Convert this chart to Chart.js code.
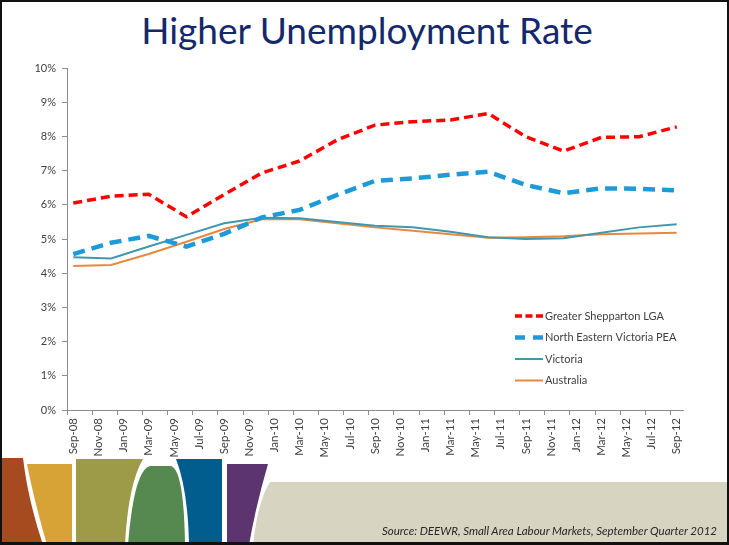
<!DOCTYPE html>
<html>
<head>
<meta charset="utf-8">
<script src="https://cdn.jsdelivr.net/npm/chart.js@4.4.1/dist/chart.umd.min.js"></script>
<style>
  html, body { margin: 0; padding: 0; background: #fff; }
  #slide { position: relative; width: 729px; height: 545px; overflow: hidden; background: #fff; }
  #frame { position: absolute; left: 0; top: 0; width: 729px; height: 545px; box-sizing: border-box;
           border: 2px solid #111; border-bottom-width: 3px; pointer-events: none; }
  #title { position: absolute; left: 0; width: 734px; top: 7px; text-align: center;
           font-family: Lato, sans-serif; font-size: 37px; color: #14296c; }
  #deco { position: absolute; left: 0; top: 0; }
  #source { position: absolute; right: 12px; top: 524px; font-family: Lato, sans-serif;
            font-style: italic; font-size: 11.5px; color: #262626; }
  canvas { position: absolute; left: 0; top: 0; }
</style>
</head>
<body>
<div id="slide">
  <svg id="deco" width="729" height="545">
    <path d="M2,458 L23,458 Q28,500 43,545 L2,545 Z" fill="#a54b1f"/>
    <path d="M27,464 L72,464 L72,545 L47,545 Q34,500 27,464 Z" fill="#d7a236"/>
    <path d="M76,459 L143,459 Q128,485 125,545 L76,545 Z" fill="#9d9a48"/>
    <path d="M150,466 L171,466 Q184,470 185,545 L128,545 Q134,470 150,466 Z" fill="#56894f"/>
    <path d="M176,459 L222,459 L222,545 L189,545 Q188,490 176,459 Z" fill="#025d8f"/>
    <path d="M227,464 L268,464 Q256,505 249,545 L227,545 Z" fill="#5b3470"/>
    <path d="M270,482 L729,482 L729,545 L253,545 Q258,500 270,482 Z" fill="#d8d4c2"/>
  </svg>
  <div id="title">Higher Unemployment Rate</div>
  <canvas id="lineChart" width="729" height="545"></canvas>
  <div id="source">Source: DEEWR, Small Area Labour Markets, September Quarter 2012</div>
  <div id="frame"></div>
</div>
<script>
// quarterly observations
const quarters = ['Sep-08', 'Dec-08', 'Mar-09', 'Jun-09', 'Sep-09', 'Dec-09', 'Mar-10', 'Jun-10', 'Sep-10',
                  'Dec-10', 'Mar-11', 'Jun-11', 'Sep-11', 'Dec-11', 'Mar-12', 'Jun-12', 'Sep-12'];

// axis labels, every two months
const tickLabels = ['Sep-08', 'Nov-08', 'Jan-09', 'Mar-09', 'May-09', 'Jul-09', 'Sep-09', 'Nov-09', 'Jan-10',
                    'Mar-10', 'May-10', 'Jul-10', 'Sep-10', 'Nov-10', 'Jan-11', 'Mar-11', 'May-11', 'Jul-11',
                    'Sep-11', 'Nov-11', 'Jan-12', 'Mar-12', 'May-12', 'Jul-12', 'Sep-12'];

const shepparton = [6.05, 6.25, 6.31, 5.65, 6.30, 6.93, 7.28, 7.90, 8.33, 8.43, 8.48, 8.67, 7.99, 7.57, 7.97, 7.99, 8.28];
const neVictoria = [4.56, 4.89, 5.09, 4.78, 5.15, 5.63, 5.85, 6.29, 6.70, 6.77, 6.88, 6.97, 6.58, 6.34, 6.48, 6.47, 6.42];
const victoria   = [4.47, 4.43, 4.78, 5.12, 5.46, 5.62, 5.61, 5.50, 5.39, 5.34, 5.21, 5.05, 5.00, 5.02, 5.18, 5.34, 5.43];
const australia  = [4.21, 4.24, 4.56, 4.92, 5.29, 5.58, 5.58, 5.46, 5.34, 5.24, 5.14, 5.04, 5.05, 5.08, 5.14, 5.16, 5.18];

const seriesNames = ['Greater Shepparton LGA', 'North Eastern Victoria PEA', 'Victoria', 'Australia'];
const yTicks = [0, 1, 2, 3, 4, 5, 6, 7, 8, 9, 10];

const MONTHS = ['Jan', 'Feb', 'Mar', 'Apr', 'May', 'Jun', 'Jul', 'Aug', 'Sep', 'Oct', 'Nov', 'Dec'];
function monthIndex(label) {
    const [m, y] = label.split('-');
    return (2000 + parseInt(y, 10)) * 12 + MONTHS.indexOf(m);
}
const base = monthIndex(quarters[0]);
const toPoints = (vals) => vals.map((v, i) => ({ x: monthIndex(quarters[i]) - base, y: v }));

const FONT = 'Lato, sans-serif';

const legendBox = {
    id: 'legendBox',
    afterDraw(chart) {
        const ctx = chart.ctx;
        chart.data.datasets.forEach((ds, i) => {
            const y = 316 + i * 21.5;
            ctx.save();
            ctx.strokeStyle = ds.borderColor;
            ctx.lineWidth = ds.borderWidth;
            ctx.setLineDash(ds.legendDash || []);
            ctx.beginPath();
            ctx.moveTo(515, y);
            ctx.lineTo(543, y);
            ctx.stroke();
            ctx.setLineDash([]);
            ctx.fillStyle = '#404040';
            ctx.font = '11px ' + FONT;
            ctx.textBaseline = 'middle';
            ctx.fillText(ds.label, 545, y);
            ctx.restore();
        });
    }
};

const ctx = document.getElementById('lineChart').getContext('2d');
const lineChart = new Chart(ctx, {
    type: 'line',
    data: {
        datasets: [
            {
                label: seriesNames[0],
                data: toPoints(shepparton),
                borderColor: '#ff0000',
                borderWidth: 3.5,
                borderDash: [9, 5],
                legendDash: [7, 3.5]
            },
            {
                label: seriesNames[1],
                data: toPoints(neVictoria),
                borderColor: '#1f9ad9',
                borderWidth: 4.5,
                borderDash: [12, 7],
                legendDash: [10, 8]
            },
            {
                label: seriesNames[2],
                data: toPoints(victoria),
                borderColor: '#4198ae',
                borderWidth: 2
            },
            {
                label: seriesNames[3],
                data: toPoints(australia),
                borderColor: '#e8883f',
                borderWidth: 2
            }
        ]
    },
    options: {
        responsive: false,
        animation: false,
        elements: {
            point: { radius: 0 },
            line: { tension: 0, fill: false }
        },
        layout: {
            padding: { left: 0, right: 46, top: 68, bottom: 75 }
        },
        plugins: {
            legend: { display: false },
            tooltip: { enabled: false }
        },
        scales: {
            x: {
                type: 'linear',
                min: -0.5,
                max: 48.5,
                afterBuildTicks: (scale) => {
                    scale.ticks = tickLabels.map((_, i) => ({ value: i * 2 - 0.5 }));
                },
                afterFit: (scale) => { scale.height = 60; },
                border: { color: '#8c8c8c', width: 1 },
                grid: {
                    drawOnChartArea: false,
                    tickLength: 5,
                    tickColor: '#8c8c8c'
                },
                ticks: {
                    autoSkip: false,
                    maxRotation: 90,
                    minRotation: 90,
                    labelOffset: 6.3,
                    padding: 3,
                    color: '#404040',
                    font: { family: FONT, size: 11.5 },
                    callback: (value, index) => tickLabels[index]
                }
            },
            y: {
                min: 0,
                max: 10,
                afterBuildTicks: (scale) => {
                    scale.ticks = yTicks.map(v => ({ value: v }));
                },
                afterFit: (scale) => { scale.width = 67; },
                border: { color: '#8c8c8c', width: 1 },
                grid: {
                    drawOnChartArea: false,
                    tickLength: 5,
                    tickColor: '#8c8c8c'
                },
                ticks: {
                    padding: 6,
                    color: '#404040',
                    font: { family: FONT, size: 11 },
                    callback: (value) => value + '%'
                }
            }
        }
    },
    plugins: [legendBox]
});
</script>
</body>
</html>
